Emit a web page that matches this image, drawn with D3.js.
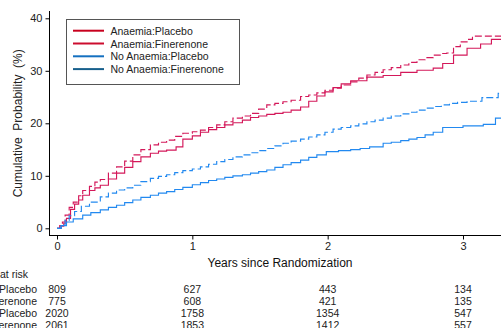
<!DOCTYPE html>
<html>
<head>
<meta charset="utf-8">
<script src="https://cdn.jsdelivr.net/npm/d3@7"></script>
<style>
  html, body { margin: 0; padding: 0; background: #fff; }
  svg { display: block; font-family: "Liberation Sans", Arial, sans-serif; }
</style>
</head>
<body>
<svg id="chart" width="501" height="328"></svg>
<script>
// ---- Data ----
const seriesNames = ["Anaemia:Placebo", "Anaemia:Finerenone", "No Anaemia:Placebo", "No Anaemia:Finerenone"];

const anaemiaPlaceboT = [0,0.02,0.04,0.06,0.09,0.12,0.16,0.19,0.24,0.28,0.32,0.38,0.44,0.50,0.56,0.62,0.69,0.75,0.81,0.87,0.93,1.0,1.06,1.12,1.18,1.24,1.30,1.37,1.43,1.49,1.55,1.61,1.67,1.73,1.80,1.86,1.92,1.98,2.04,2.10,2.17,2.23,2.29,2.35,2.41,2.47,2.54,2.60,2.66,2.72,2.78,2.84,2.88,2.93,2.98,3.03,3.07,3.30];
const anaemiaPlaceboV = [0,0.5,1.2,2.5,4.0,5.0,6.2,7.2,8.0,8.8,9.3,10.5,11.7,12.8,14.0,15.0,15.9,16.4,16.8,17.5,18.1,18.4,18.7,19.2,19.7,20.3,21.0,21.4,21.9,22.7,23.5,23.8,24.1,24.4,25.1,25.4,25.8,26.3,26.7,27.3,27.9,28.6,29.2,29.7,30.2,30.6,31.1,31.6,32.1,32.5,33.0,33.3,33.4,34.6,35.5,36.0,36.6,36.6];

const anaemiaFinerenoneT = [0,0.03,0.05,0.07,0.1,0.13,0.16,0.19,0.24,0.28,0.32,0.38,0.44,0.50,0.56,0.62,0.69,0.75,0.81,0.88,0.93,1.0,1.06,1.12,1.18,1.24,1.30,1.37,1.43,1.49,1.55,1.61,1.67,1.73,1.80,1.86,1.92,1.98,2.04,2.10,2.17,2.29,2.41,2.54,2.66,2.78,2.85,2.93,3.03,3.13,3.21,3.30];
const anaemiaFinerenoneV = [0,0.4,1.0,1.9,3.6,4.6,5.4,6.3,7.2,7.7,8.2,9.4,10.5,11.6,12.7,13.6,14.3,14.7,14.9,15.5,17.0,17.6,18.3,18.8,19.2,19.7,20.1,20.6,21.1,21.4,21.7,21.9,22.1,22.5,23.1,24.2,25.2,26.0,26.8,27.5,28.1,28.8,29.1,29.7,30.1,30.5,31.4,33.0,34.3,35.1,36.0,36.0];

const noAnaemiaPlaceboT = [0,0.03,0.06,0.09,0.13,0.18,0.24,0.32,0.38,0.44,0.50,0.56,0.62,0.69,0.75,0.81,0.87,0.93,1.0,1.06,1.12,1.18,1.24,1.30,1.37,1.43,1.49,1.55,1.61,1.67,1.73,1.80,1.86,1.92,1.98,2.04,2.10,2.17,2.23,2.29,2.35,2.41,2.47,2.54,2.60,2.66,2.72,2.78,2.84,2.90,2.96,3.03,3.14,3.26,3.30];
const noAnaemiaPlaceboV = [0,0.6,1.5,2.4,3.2,4.2,5.0,6.0,6.7,7.3,7.7,8.2,8.9,9.5,9.9,10.2,10.6,11.0,11.3,11.7,12.2,12.7,13.1,13.6,14.0,14.4,14.8,15.2,15.7,16.2,16.6,17.0,17.4,17.8,18.3,18.9,19.2,19.5,19.9,20.3,20.6,21.0,21.4,21.8,22.1,22.5,22.9,23.2,23.5,23.8,24.0,24.2,24.9,25.7,25.7];

const noAnaemiaFinerenoneT = [0,0.03,0.07,0.12,0.19,0.25,0.32,0.38,0.44,0.50,0.56,0.62,0.69,0.75,0.81,0.87,0.93,1.0,1.06,1.12,1.18,1.24,1.30,1.37,1.43,1.49,1.55,1.61,1.67,1.73,1.80,1.86,1.92,1.99,2.08,2.17,2.24,2.31,2.41,2.47,2.54,2.60,2.66,2.72,2.78,2.85,3.0,3.15,3.24,3.30];
const noAnaemiaFinerenoneV = [0,0.5,1.2,1.8,2.5,3.0,3.5,4.0,4.4,4.9,5.4,5.9,6.3,6.7,7.0,7.4,7.8,8.3,8.7,9.1,9.4,9.7,10.0,10.2,10.5,10.8,11.1,11.6,12.1,12.5,13.0,13.5,14.0,14.6,14.8,15.0,15.2,15.5,16.2,16.4,16.7,17.0,17.3,17.8,18.3,19.2,19.5,19.8,21.0,21.0];

const yTicks = [0, 10, 20, 30, 40];
const xTicks = [0, 1, 2, 3];
const riskTimes = [0, 1, 2, 3];
const riskAnaemiaPlacebo = [809, 627, 443, 134];
const riskAnaemiaFinerenone = [775, 608, 421, 135];
const riskNoAnaemiaPlacebo = [2020, 1758, 1354, 547];
const riskNoAnaemiaFinerenone = [2061, 1853, 1412, 557];

// ---- Build ----
const svg = d3.select("#chart");
const x = d3.scaleLinear().domain([0, 3]).range([57, 463]);
const y = d3.scaleLinear().domain([0, 40]).range([228.3, 18.3]);
const plotLeft = 49.5, plotRight = 501, axisY = 235.5, axisTop = 11;
const FONT = "Liberation Sans, Arial, sans-serif";

const series = [
  {name: seriesNames[0], t: anaemiaPlaceboT, v: anaemiaPlaceboV, color: "#d4185a", dash: "7,3", legend: "#c8001e"},
  {name: seriesNames[1], t: anaemiaFinerenoneT, v: anaemiaFinerenoneV, color: "#d4185a", dash: null, legend: "#cc0d2e"},
  {name: seriesNames[2], t: noAnaemiaPlaceboT, v: noAnaemiaPlaceboV, color: "#2289f0", dash: "7,3", legend: "#1470c0"},
  {name: seriesNames[3], t: noAnaemiaFinerenoneT, v: noAnaemiaFinerenoneV, color: "#2289f0", dash: null, legend: "#175f8c"}
];

svg.append("defs").append("clipPath").attr("id", "clip")
  .append("rect").attr("x", plotLeft).attr("y", 0).attr("width", plotRight - plotLeft).attr("height", axisY);

const line = d3.line().x(d => x(d[0])).y(d => y(d[1])).curve(d3.curveStepAfter);
const g = svg.append("g").attr("clip-path", "url(#clip)");
series.forEach(s => {
  g.append("path")
    .datum(s.t.map((t, i) => [t, s.v[i]]))
    .attr("d", line)
    .attr("fill", "none")
    .attr("stroke", s.color)
    .attr("stroke-width", 1.15)
    .attr("stroke-dasharray", s.dash);
});

// Y axis
const yAxis = d3.axisLeft(y).tickValues(yTicks).tickFormat(d3.format("d")).tickSize(4).tickPadding(3).tickSizeOuter(0);
const yg = svg.append("g").attr("transform", `translate(${plotLeft},0)`).call(yAxis);
yg.select(".domain").remove();
yg.selectAll("text").attr("font-size", "11px").attr("fill", "#222").attr("font-family", FONT);
svg.append("line").attr("x1", plotLeft).attr("x2", plotLeft).attr("y1", axisTop).attr("y2", axisY + 0.5).attr("stroke", "#000");

// X axis
const xAxis = d3.axisBottom(x).tickValues(xTicks).tickFormat(d3.format("d")).tickSize(4).tickPadding(3).tickSizeOuter(0);
const xg = svg.append("g").attr("transform", `translate(0,${axisY})`).call(xAxis);
xg.select(".domain").remove();
xg.selectAll("text").attr("font-size", "11px").attr("fill", "#222").attr("font-family", FONT);
svg.append("line").attr("x1", plotLeft).attr("x2", plotRight).attr("y1", axisY).attr("y2", axisY).attr("stroke", "#000");

// Axis titles
svg.append("text").attr("x", 280).attr("y", 263).attr("dominant-baseline", "central")
  .attr("text-anchor", "middle").attr("font-size", "12px").attr("fill", "#111")
  .text("Years since Randomization");
svg.append("text").attr("transform", `translate(17.5,${(y(0) + y(40)) / 2}) rotate(-90)`)
  .attr("dominant-baseline", "central").attr("text-anchor", "middle")
  .attr("font-size", "12px").attr("fill", "#222").style("white-space", "pre")
  .text("Cumulative  Probability  (%)");

// Legend
const lg = svg.append("g");
lg.append("rect").attr("x", 66.5).attr("y", 19.5).attr("width", 173).attr("height", 65)
  .attr("fill", "#fff").attr("stroke", "#555").attr("stroke-width", 1);
series.forEach((s, i) => {
  const cy = 30.7 + i * 12.8;
  lg.append("line").attr("x1", 73).attr("x2", 104).attr("y1", cy).attr("y2", cy)
    .attr("stroke", s.legend).attr("stroke-width", 2);
  lg.append("text").attr("x", 110.5).attr("y", cy).attr("dominant-baseline", "central")
    .attr("font-size", "10.5px").attr("fill", "#222").text(s.name);
});

// Risk table
svg.append("text").attr("x", 28).attr("y", 274).attr("dominant-baseline", "central")
  .attr("text-anchor", "end").attr("font-size", "10.5px").attr("fill", "#222").text("Number at risk");
const riskRows = [riskAnaemiaPlacebo, riskAnaemiaFinerenone, riskNoAnaemiaPlacebo, riskNoAnaemiaFinerenone];
riskRows.forEach((row, i) => {
  const cy = 288.5 + i * 12;
  svg.append("text").attr("x", 37).attr("y", cy).attr("dominant-baseline", "central")
    .attr("text-anchor", "end").attr("font-size", "10.5px").attr("fill", "#222").text(seriesNames[i]);
  row.forEach((n, j) => {
    svg.append("text").attr("x", x(riskTimes[j])).attr("y", cy).attr("dominant-baseline", "central")
      .attr("text-anchor", "middle").attr("font-size", "10.5px").attr("fill", "#222").text(n);
  });
});
</script>
</body>
</html>
